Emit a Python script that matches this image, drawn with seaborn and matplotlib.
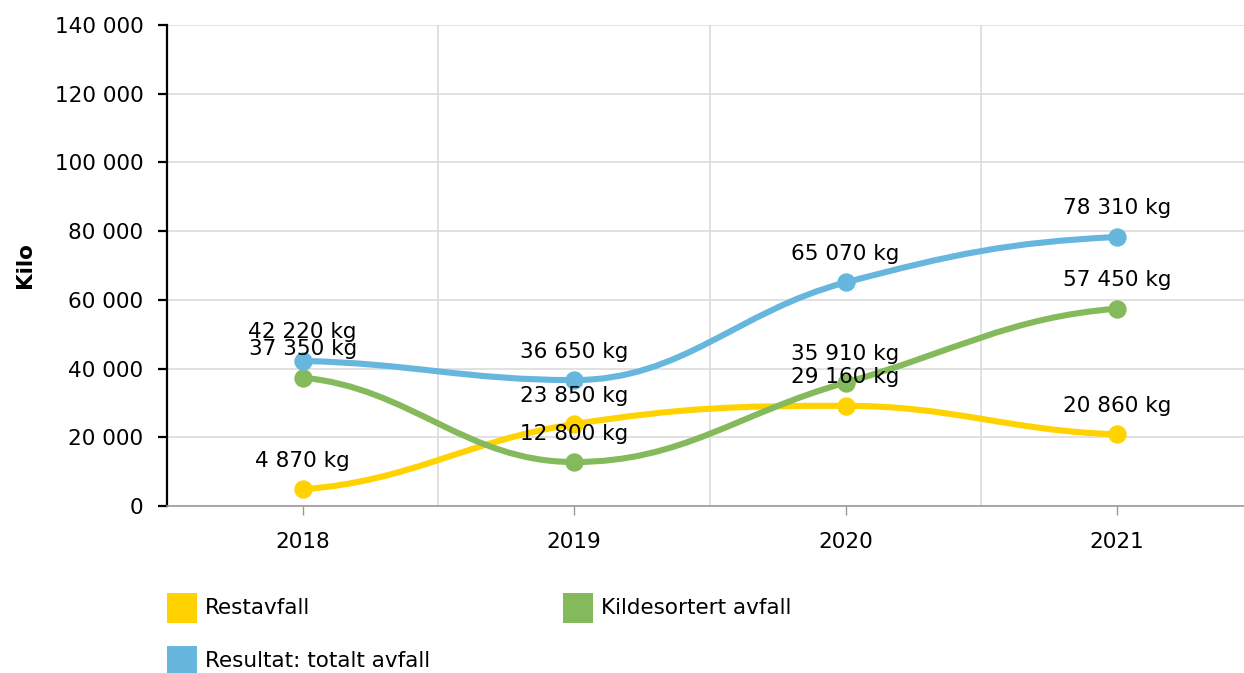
import matplotlib
matplotlib.use("Agg")
import matplotlib.pyplot as plt
from matplotlib.path import Path
from matplotlib.patches import PathPatch, Rectangle
from matplotlib.ticker import FuncFormatter, MultipleLocator, FixedLocator
import seaborn as sns
import pandas as pd

years = ["2018", "2019", "2020", "2021"]
restavfall = [4870, 23850, 29160, 20860]
kildesortert = [37350, 12800, 35910, 57450]
totalt = [42220, 36650, 65070, 78310]
series_names = ["Restavfall", "Kildesortert avfall", "Resultat: totalt avfall"]
colors = ["#FFD200", "#84BA5B", "#66B6DE"]

sns.set_theme(style="white")
plt.rcParams["font.family"] = ["DejaVu Sans"]
FS = 15.5

fig = plt.figure(figsize=(12.44, 6.73), dpi=100)
W, H = 1244, 673
ax = fig.add_axes([167 / W, 1 - 506 / H, (1244 - 167) / W, (506 - 25) / H])


def spline_path(xs, ys, smoothing=1.5):
    denom = smoothing + 1
    n = len(xs)
    lefts, rights = [], []
    for i in range(n):
        px, py = xs[i], ys[i]
        if 0 < i < n - 1:
            lx, ly = xs[i - 1], ys[i - 1]
            nx, ny = xs[i + 1], ys[i + 1]
            lcx = (smoothing * px + lx) / denom
            lcy = (smoothing * py + ly) / denom
            rcx = (smoothing * px + nx) / denom
            rcy = (smoothing * py + ny) / denom
            corr = ((rcy - lcy) * (rcx - px)) / (rcx - lcx) + py - rcy
            lcy += corr
            rcy += corr
            if lcy > max(ly, py):
                lcy = max(ly, py)
                rcy = 2 * py - lcy
            elif lcy < min(ly, py):
                lcy = min(ly, py)
                rcy = 2 * py - lcy
            if rcy > max(py, ny):
                rcy = max(py, ny)
                lcy = 2 * py - rcy
            elif rcy < min(py, ny):
                rcy = min(py, ny)
                lcy = 2 * py - rcy
            lefts.append((lcx, lcy))
            rights.append((rcx, rcy))
        elif i == 0:
            dx = (xs[1] - px) / denom
            lefts.append((px, py))
            rights.append((px + dx, py + (ys[1] - py) * 0.12))
        else:
            dx = (px - xs[i - 1]) / denom
            lefts.append((px - dx, py - (py - ys[i - 1]) * 0.12))
            rights.append((px, py))
    verts = [(xs[0], ys[0])]
    codes = [Path.MOVETO]
    for i in range(1, n):
        verts += [rights[i - 1], lefts[i], (xs[i], ys[i])]
        codes += [Path.CURVE4] * 3
    return Path(verts, codes)


xs = list(range(len(years)))
all_series = [restavfall, kildesortert, totalt]
for k, (vals, col) in enumerate(zip(all_series, colors)):
    patch = PathPatch(spline_path(xs, vals), facecolor="none", edgecolor=col,
                      lw=4.4, zorder=3 + k, capstyle="round", joinstyle="round")
    ax.add_patch(patch)
    df = pd.DataFrame({"x": xs, "y": vals})
    sns.scatterplot(data=df, x="x", y="y", ax=ax, color=col, s=175,
                    edgecolor=col, linewidth=0, zorder=4 + k, legend=False)

# data labels
for vals in all_series:
    for x, v in zip(xs, vals):
        ax.annotate(f"{v:,}".replace(",", " ") + " kg", (x, v), xytext=(0, 20.5),
                    textcoords="offset points", ha="center", va="center",
                    fontsize=FS, color="#000000", zorder=10)

ax.set_xlim(-0.5, 3.468)
ax.set_ylim(0, 140000)
ax.yaxis.set_major_locator(MultipleLocator(20000))
ax.yaxis.set_major_formatter(FuncFormatter(lambda v, p: f"{int(v):,}".replace(",", " ")))
ax.set_xticks(xs)
ax.set_xticklabels(years)
ax.xaxis.set_minor_locator(FixedLocator([0.5, 1.5, 2.5]))

ax.grid(False)
ax.yaxis.grid(True, which="major", color="#dcdcdc", lw=1.2)
ax.xaxis.grid(True, which="minor", color="#dcdcdc", lw=1.2)
ax.set_axisbelow(True)

for s in ["top", "right"]:
    ax.spines[s].set_visible(False)
ax.spines["left"].set_color("#000000")
ax.spines["left"].set_linewidth(1.6)
ax.spines["bottom"].set_color("#999999")
ax.spines["bottom"].set_linewidth(1.2)

ax.tick_params(axis="y", which="major", left=True, length=6.5, width=1.6,
               color="#000000", labelsize=FS, pad=10.5, labelcolor="#000000")
ax.tick_params(axis="x", which="major", bottom=True, length=6.5, width=1,
               color="#999999", labelsize=FS, pad=12, labelcolor="#000000")
ax.tick_params(axis="x", which="minor", bottom=False, length=0)

ax.set_xlabel("")
ax.set_ylabel("")
fig.text(25 / W, 1 - 265 / H, "Kilo", rotation=90, ha="center", va="center",
         fontsize=FS, fontweight="bold", color="#000000")

# legend
legend_items = [(167, 593, 0), (563, 593, 1), (167, 646, 2)]
for lx, ly, idx in legend_items:
    fig.patches.append(Rectangle((lx / W, 1 - (ly + 30) / H), 30 / W, 30 / H,
                                 transform=fig.transFigure, facecolor=colors[idx],
                                 edgecolor="none"))
    fig.text((lx + 38) / W, 1 - (ly + 15) / H, series_names[idx], ha="left",
             va="center", fontsize=FS, color="#000000")

fig.savefig("out.png", dpi=100)
